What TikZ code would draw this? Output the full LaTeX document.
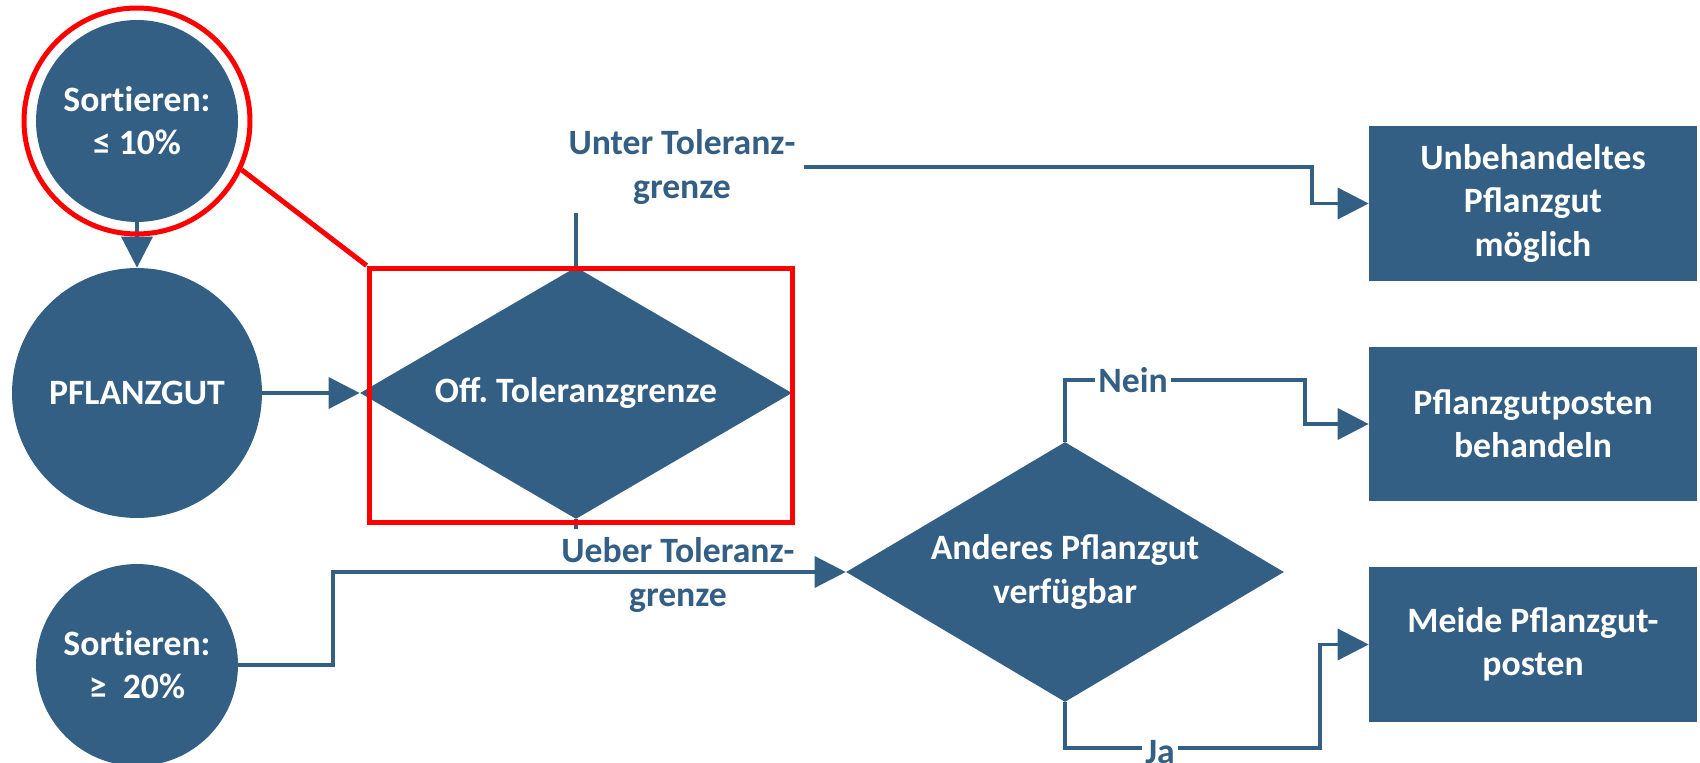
\documentclass[tikz,border=0pt]{standalone}
\usepackage{fontspec}
\setmainfont{Carlito}
\usetikzlibrary{arrows.meta,shapes.geometric}
\definecolor{flowblue}{RGB}{52,95,133}
\definecolor{markred}{RGB}{255,0,0}

\begin{document}
\begin{tikzpicture}
  [x=0.02cm,y=-0.02cm,
   every node/.style={font=\fontsize{20.3}{24.5}\selectfont\bfseries,align=center,text=white},
   blob/.style={circle,fill=flowblue,inner sep=0pt,minimum size=4.04cm},
   bigblob/.style={blob,minimum size=5cm},
   query/.style={diamond,fill=flowblue,inner sep=0pt,aspect=1.7},
   result/.style={rectangle,fill=flowblue,minimum width=6.56cm,minimum height=3.1cm},
   flow/.style={draw=flowblue,line width=0.07cm,-{Triangle[length=0.62cm,width=0.62cm]}},
   wire/.style={draw=flowblue,line width=0.07cm},
   tag/.style={text=flowblue,fill=white,inner sep=0.18cm},
   markup/.style={draw=markred,line width=0.1cm}]
  \useasboundingbox (0,0) rectangle (1700,763);

  \node[blob] (s10) at (137,121) {Sort\kern0pt ieren:\\≤ 10\%};
  \node[bigblob] (pfl) at (137,393) {PFLANZGUT};
  \node[blob] (s20) at (137,665) {Sort\kern0pt ieren:\\≥\ \ 20\%};
  \node[query,minimum width=8.64cm,minimum height=5.04cm] (tol) at (576,393) {Off.\ Toleranzgrenze};
  \node[query,minimum width=8.76cm,minimum height=5.2cm] (and) at (1065,572) {Anderes Pflanzgut\\verfügbar};
  \node[result] (unb) at (1533,203.5) {Unbehandeltes\\Pflanzgut\\möglich};
  \node[result] (beh) at (1533,424) {Pflanzgutposten\\behandeln};
  \node[result] (mei) at (1533,644.5) {Meide Pflanzgut-\\posten};
  \coordinate (join) at (576,572);

\foreach \from/\to in
{s10/pfl, pfl/tol}
    \draw[flow] (\from) -- (\to);

  \draw[flow] (tol.north) |- (1312,167) |- (unb.west);
  \node[tag] at (682,167) {Unter Toleranz-\\grenze};
  \draw[wire] (tol.south) -- (join);
  \node[tag] at (678,575) {Ueber Toleranz-\\grenze};
  \draw[flow] (s20) -- (333,665) |- (and.west);
  \draw[flow] (and.north) |- (1305,380) |- (beh.west);
  \node[tag,inner sep=2pt] at (1133,380) {Nein};
  \draw[flow] (and.south) |- (1320,748) |- (mei.west);
  \node[tag,inner sep=2pt] at (1160,752) {Ja};

  % red highlight
  \node[circle,markup,minimum size=4.52cm] (ring) at (137,121) {};
  \node[markup,minimum width=8.48cm,minimum height=5.1cm] (frame) at (581,395.5) {};
  \draw[markup] (ring.-25) -- (frame.north west);
\end{tikzpicture}
\end{document}
